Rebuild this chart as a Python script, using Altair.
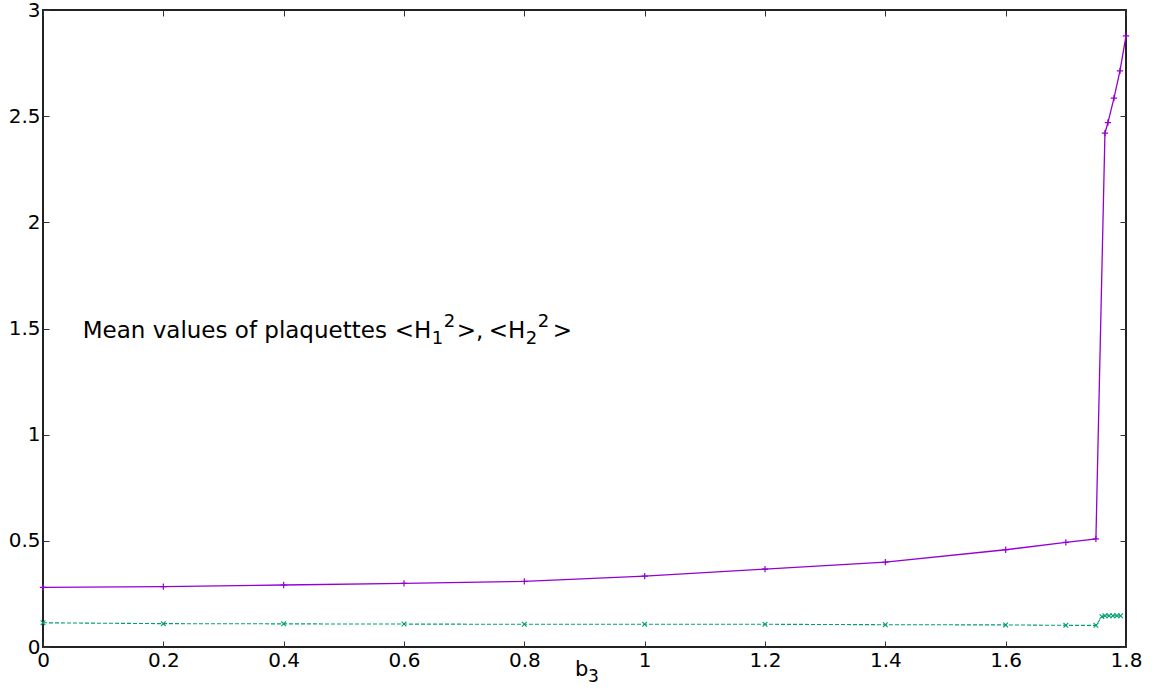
import altair as alt
import pandas as pd

# purple series <H1^2>
x1 = [0, 0.2, 0.4, 0.6, 0.8, 1.0, 1.2, 1.4, 1.6, 1.7, 1.75, 1.765, 1.77, 1.78, 1.79, 1.8]
y1 = [0.281, 0.284, 0.292, 0.300, 0.309, 0.334, 0.367, 0.400, 0.458, 0.493, 0.509,
      2.42, 2.47, 2.585, 2.713, 2.878]
# green series <H2^2>
x2 = [0, 0.2, 0.4, 0.6, 0.8, 1.0, 1.2, 1.4, 1.6, 1.7, 1.75, 1.76, 1.765, 1.772, 1.778, 1.785, 1.791]
y2 = [0.114, 0.110, 0.109, 0.108, 0.107, 0.107, 0.107, 0.105, 0.104, 0.102, 0.102,
      0.143, 0.147, 0.147, 0.147, 0.147, 0.147]

xticks = [0, 0.2, 0.4, 0.6, 0.8, 1, 1.2, 1.4, 1.6, 1.8]
yticks = [0, 0.5, 1, 1.5, 2, 2.5, 3]

# annotation "Mean values of plaquettes <H_1^2>,<H_2^2>" split in pieces
annot_pieces = ["Mean values of plaquettes", "<H", "1", "2", ">,", "<H", "2", "2", ">"]
annot_x = [0.066]
annot_y = [1.455]

# x axis title pieces: "b" with subscript "3"
xtitle_pieces = ["b", "3"]

FONT = "DejaVu Sans"
PURPLE = "#9400D3"
GREEN = "#009E73"
W, H = 1083, 637

# pixel offsets (dx, dy, fontSize) for each annotation piece: normal, sub, sup
piece_style = [(0, 0, 23), (312, 0, 23), (349, 6, 18), (361, -11, 18), (374, 0, 23),
               (406, 0, 23), (443, 6, 18), (455, -11, 18), (470, 0, 23)]
# pixel positions of x title pieces relative to the plot area (x, y, fontSize)
xtitle_style = [(532, 29, 21), (545, 35, 17)]

d1 = pd.DataFrame({"x": x1, "y": y1})
d2 = pd.DataFrame({"x": x2, "y": y2})
dt = pd.DataFrame({"x": annot_x, "y": annot_y})

xs = alt.Scale(domain=[0, 1.8], nice=False, zero=False)
ys = alt.Scale(domain=[0, 3], nice=False, zero=False)

common_axis = dict(domain=False, grid=False, tickSize=6, offset=-6, tickColor="#333333",
                   labelFont=FONT, labelFontSize=20, labelColor="black", format="~g")

xb = alt.X("x:Q", scale=xs, axis=alt.Axis(values=xticks, orient="bottom", labelPadding=3,
                                           title=None, labelFlush=False, **common_axis))
yl = alt.Y("y:Q", scale=ys, axis=alt.Axis(values=yticks, orient="left", labelPadding=3,
                                           title=None, labelFlush=False, **common_axis))

xt = alt.X("x:Q", scale=xs, axis=alt.Axis(values=xticks, orient="top", labels=False,
                                           title=None, **common_axis))
yr = alt.Y("y:Q", scale=ys, axis=alt.Axis(values=yticks, orient="right", labels=False,
                                           title=None, **common_axis))

xn = alt.X("x:Q", scale=xs, axis=None)
yn = alt.Y("y:Q", scale=ys, axis=None)

plus = "M-1,0L1,0M0,-1L0,1"
ex = "M-1,-1L1,1M-1,1L1,-1"

line1 = alt.Chart(d1).mark_line(color=PURPLE, strokeWidth=1.3).encode(x=xb, y=yl)
pts1 = alt.Chart(d1).mark_point(shape=plus, size=40, color=PURPLE, strokeWidth=1.2,
                                filled=False, opacity=1).encode(x=xt, y=yr)
line2 = alt.Chart(d2).mark_line(color=GREEN, strokeWidth=1.1, strokeDash=[4, 2]).encode(
    x=xn, y=yn)
pts2 = alt.Chart(d2).mark_point(shape=ex, size=22, color=GREEN, strokeWidth=1.1,
                                filled=False, opacity=1).encode(x=xn, y=yn)

texts = []
for s, (dx, dy, fs) in zip(annot_pieces, piece_style):
    texts.append(
        alt.Chart(dt).mark_text(align="left", baseline="alphabetic", font=FONT, fontSize=fs,
                                color="black", dx=dx, dy=dy, text=s).encode(x=xn, y=yn)
    )
for s, (px, py, fs) in zip(xtitle_pieces, xtitle_style):
    texts.append(
        alt.Chart(dt).mark_text(align="left", baseline="alphabetic", font=FONT, fontSize=fs,
                                color="black", text=s).encode(
            x=alt.value(px), y=alt.value(H + py))
    )

chart = alt.layer(line1, pts1, line2, pts2, *texts).resolve_axis(
    x="independent", y="independent"
).properties(
    width=W, height=H,
    autosize=alt.AutoSizeParams(type="none"),
    padding={"left": 43, "top": 10, "right": 31, "bottom": 42},
    background="white",
).configure_view(stroke="#222222", strokeWidth=2)

chart.save("out.html", embed_options={"renderer": "svg", "actions": False})
